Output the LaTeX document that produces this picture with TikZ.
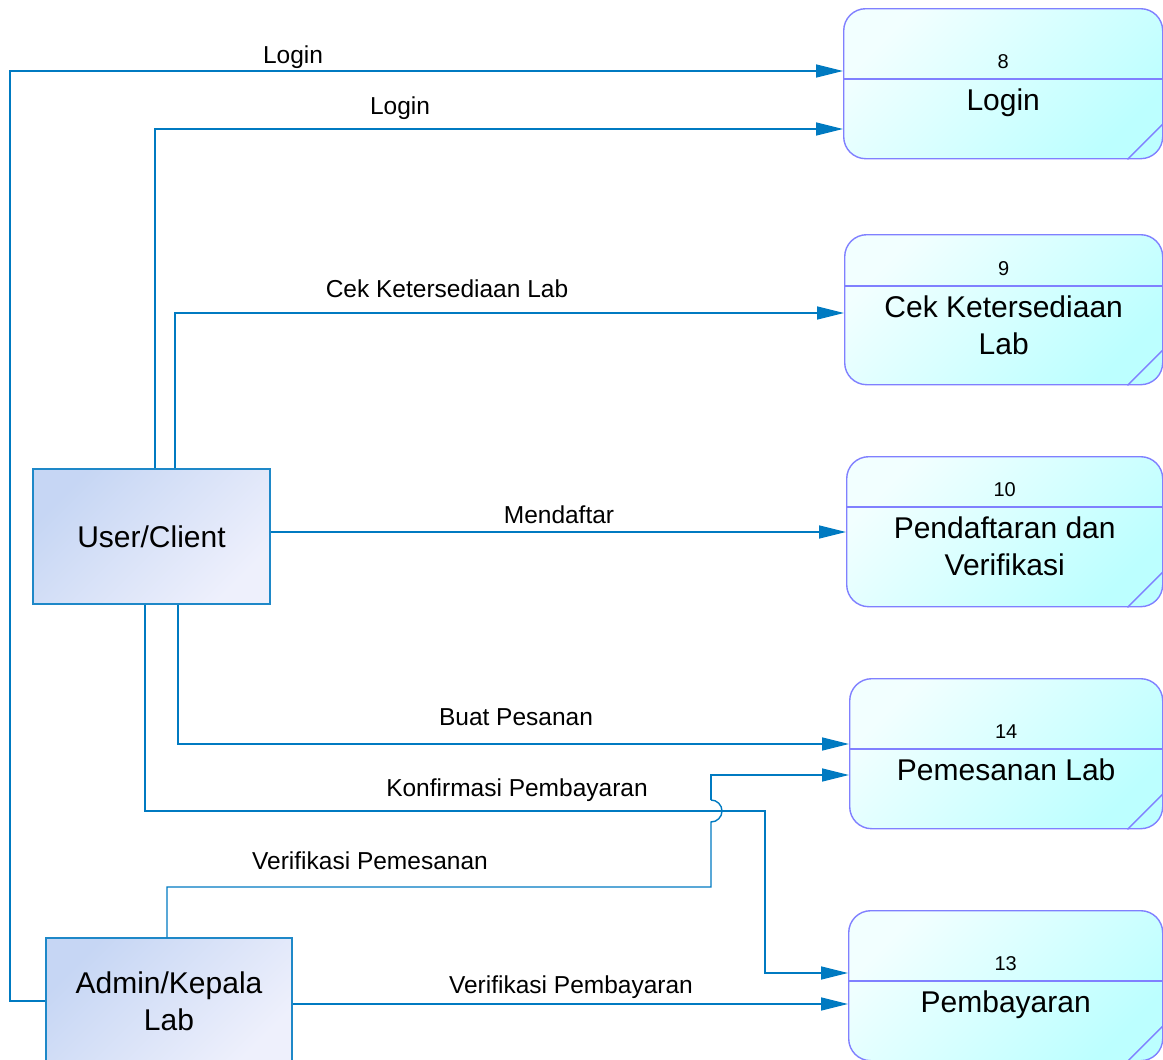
\documentclass[tikz,border=0pt]{standalone}
\usepackage{fontspec}
\setmainfont{Liberation Sans}
\usetikzlibrary{arrows.meta}
\definecolor{flowblue}{RGB}{0,122,193}
\definecolor{procedge}{RGB}{128,128,255}
\definecolor{proclight}{RGB}{242,255,255}
\definecolor{procdark}{RGB}{188,255,255}
\definecolor{entedge}{RGB}{30,136,200}
\definecolor{entdark}{RGB}{198,214,244}
\definecolor{entlight}{RGB}{238,240,252}

\begin{document}
\begin{tikzpicture}[x=1pt,y=-1pt,
    flow/.style={draw=flowblue,line width=1.4pt,-{Triangle[length=27pt,width=13pt]}},
    wire/.style={draw=flowblue,line width=1.4pt},
    entity/.style={draw=entedge,line width=1.4pt,shading=axis,top color=entdark,bottom color=entlight,shading angle=45,
      align=center,font=\fontsize{30}{37}\selectfont,inner sep=0pt},
    proc/.style={draw=procedge,line width=1.4pt,rounded corners=22pt,shading=axis,top color=proclight,bottom color=procdark,shading angle=45,
      minimum height=150pt,inner sep=0pt},
    procline/.style={draw=procedge,line width=1.4pt},
    ptext/.style={align=center,font=\fontsize{30}{37}\selectfont,inner sep=0pt,anchor=north},
    pnum/.style={font=\fontsize{20}{24}\selectfont,inner sep=0pt,anchor=base},
    lbl/.style={font=\fontsize{24.5}{29}\selectfont,inner sep=0pt,anchor=base}]
    \useasboundingbox (0,0) rectangle (1163,1060);
    % Draw the processes with number, divider and corner mark
    \foreach \id/\xl/\yt/\dv/\txt in {8/843/8/71/Login, 9/844/234/52/{Cek Ketersediaan\\Lab},
        10/846/456/51/{Pendaftaran dan\\Verifikasi}, 14/849/678/71/Pemesanan Lab, 13/848/910/71/Pembayaran}{
      \node[proc,anchor=north west,minimum width={(1162-\xl)*1pt}] (p\id) at (\xl,\yt) {};
      \coordinate (d\id) at (\xl,{\yt+\dv});
      \draw[procline] (d\id) -- (d\id -| p\id.east);
      \draw[procline] ([xshift=-36pt]p\id.south east) -- ([yshift=36pt]p\id.south east);
      \node[pnum] (n\id) at (p\id.center |- 0,{\yt+\dv-11}) {\id};
      \node[ptext] (t\id) at (p\id.center |- 0,{\yt+\dv+10}) {\txt};
    }
    % Draw the external entities
    \node[entity,minimum width=237pt,minimum height=135pt] (user) at (151.5,536.5) {User/Client};
    \node[entity,minimum width=246pt,minimum height=126pt] (admin) at (169,1001) {Admin/Kepala\\Lab};
    % Draw the data flows
    \draw[flow] (admin.west) -| (10,71) -- (p8.west |- 0,71);
    \draw[flow] (user.north -| 155,0) |- (p8.west |- 0,129);
    \draw[flow] (user.north -| 175,0) |- (p9.west |- 0,313);
    \draw[flow] (user.east |- 0,532) -- (p10.west |- 0,532);
    \draw[flow] (user.south -| 178,0) |- (p14.west |- 0,744);
    \draw[flow] (user.south -| 145,0) |- (765,811) |- (p13.west |- 0,973);
    \draw[wire] (admin.north -| 167,0) |- (711,887) -- (711,822)
      arc[start angle=-90,end angle=90,radius=11pt];
    \draw[flow] (711,800) -- (711,775) -- (p14.west |- 0,775);
    \draw[flow] (admin.east |- 0,1004) -- (p13.west |- 0,1004);
    % Label the flows
    \node[lbl] (l1) at (293,63) {Login};
    \node[lbl] (l2) at (400,114) {Login};
    \node[lbl] (l3) at (447,297) {Cek Ketersediaan Lab};
    \node[lbl] (l4) at (559,523) {Mendaftar};
    \node[lbl] (l5) at (516,725) {Buat Pesanan};
    \node[lbl] (l6) at (517,796) {Konfirmasi Pembayaran};
    \node[lbl] (l7) at (370,869) {Verifikasi Pemesanan};
    \node[lbl] (l8) at (571,993) {Verifikasi Pembayaran};
\end{tikzpicture}
\end{document}
